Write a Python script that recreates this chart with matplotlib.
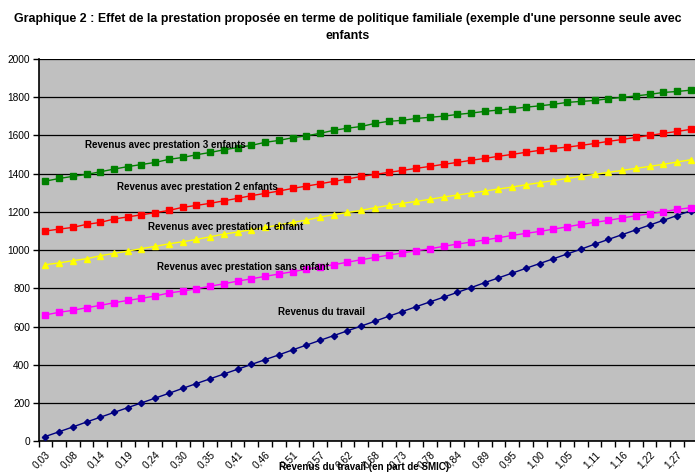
import matplotlib
matplotlib.use("Agg")
import matplotlib.pyplot as plt
from matplotlib.ticker import FixedLocator, NullFormatter

plt.rcParams['font.family'] = ['Liberation Sans', 'DejaVu Sans']

# categories : revenu du travail en part de SMIC (48 points, k/37)
points = list(range(1, 49))
labels = ['0,03', '0,08', '0,14', '0,19', '0,24', '0,30', '0,35', '0,41', '0,46', '0,51',
          '0,57', '0,62', '0,68', '0,73', '0,78', '0,84', '0,89', '0,95', '1,00', '1,05',
          '1,11', '1,16', '1,22', '1,27']

travail = [25, 50, 75, 101, 126, 151, 176, 201, 226, 251, 277, 302, 327, 352, 377, 402,
           427, 452, 478, 503, 528, 553, 578, 603, 628, 654, 679, 704, 729, 754, 779, 804,
           830, 855, 880, 905, 930, 955, 980, 1005, 1031, 1056, 1081, 1106, 1131, 1156, 1181, 1206]
sans_enfant = [661, 675, 685, 699, 711, 725, 737, 748, 760, 776, 786, 798, 811, 824, 838, 850,
               863, 875, 887, 900, 912, 924, 937, 950, 962, 974, 986, 997, 1007, 1020, 1032, 1042,
               1053, 1065, 1077, 1088, 1098, 1110, 1122, 1135, 1145, 1156, 1168, 1180, 1190, 1201, 1213, 1222]
un_enfant = [924, 933, 945, 955, 971, 983, 995, 1008, 1020, 1033, 1044, 1056, 1070, 1084, 1095, 1107,
             1119, 1131, 1145, 1157, 1173, 1185, 1197, 1208, 1222, 1234, 1245, 1255, 1266, 1278, 1288, 1299,
             1309, 1320, 1330, 1342, 1353, 1364, 1375, 1386, 1396, 1407, 1417, 1428, 1438, 1449, 1461, 1473]
deux_enfants = [1100, 1110, 1119, 1135, 1145, 1163, 1174, 1185, 1196, 1208, 1224, 1234, 1245, 1258, 1271, 1285,
                1297, 1309, 1323, 1335, 1347, 1360, 1372, 1386, 1396, 1407, 1417, 1428, 1438, 1449, 1459, 1470,
                1480, 1491, 1501, 1512, 1522, 1532, 1539, 1548, 1558, 1569, 1579, 1590, 1600, 1611, 1621, 1632]
trois_enfants = [1361, 1375, 1386, 1396, 1410, 1424, 1437, 1448, 1459, 1475, 1485, 1499, 1511, 1525, 1537, 1548,
                 1564, 1574, 1588, 1598, 1611, 1627, 1638, 1647, 1663, 1674, 1679, 1689, 1695, 1701, 1710, 1717,
                 1726, 1733, 1740, 1748, 1755, 1763, 1773, 1778, 1783, 1792, 1799, 1807, 1815, 1825, 1830, 1837]

fig = plt.figure(figsize=(6.95, 4.73), dpi=100)
ax = fig.add_axes([38.5 / 695, 1 - 441.3 / 473, (697.6 - 38.5) / 695, (441.3 - 59) / 473])
ax.set_facecolor('#C0C0C0')

# series
ax.plot(points, travail, color='#000080', marker='D', markersize=3.2, linewidth=1, zorder=3)
ax.plot(points, sans_enfant, color='#FF00FF', marker='s', markersize=4.2, linewidth=1, zorder=3)
ax.plot(points, un_enfant, color='#FFFF00', marker='^', markersize=4.8, linewidth=1, zorder=3)
ax.plot(points, deux_enfants, color='#FF0000', marker='s', markersize=4.2, linewidth=1, zorder=3)
ax.plot(points, trois_enfants, color='#008000', marker='s', markersize=4.2, linewidth=1, zorder=3)

# axes
ax.set_xlim(0.5, 48.5)
ax.set_ylim(0, 2000)
ax.set_yticks(range(0, 2001, 200))
ax.tick_params(axis='y', labelsize=7.3, length=4, width=1, direction='out', pad=2)
ax.yaxis.grid(True, color='black', linewidth=0.9)
ax.set_axisbelow(True)

ax.xaxis.set_major_locator(FixedLocator([i + 0.5 for i in range(0, 49)]))
ax.xaxis.set_major_formatter(NullFormatter())
ax.tick_params(axis='x', which='major', length=4, width=1, direction='out')
ax.set_xticks(points[::2], minor=True)
ax.set_xticklabels(labels, minor=True, rotation=45, ha='right', va='top',
                   rotation_mode='anchor', fontsize=7.3)
ax.tick_params(axis='x', which='minor', length=0, pad=6)

for s in ['top', 'right']:
    ax.spines[s].set_visible(False)
ax.spines['left'].set_linewidth(1.2)
ax.spines['bottom'].set_linewidth(1.2)

# texts inside the plot
ax.text(3.91, 1550, 'Revenus avec prestation 3 enfants', fontsize=7, fontweight='bold', va='center')
ax.text(6.24, 1330, 'Revenus avec prestation 2 enfants', fontsize=7, fontweight='bold', va='center')
ax.text(8.50, 1122, 'Revenus avec prestation 1 enfant', fontsize=7, fontweight='bold', va='center')
ax.text(9.15, 913, 'Revenus avec prestation sans enfant', fontsize=7, fontweight='bold', va='center')
ax.text(17.96, 676, 'Revenus du travail', fontsize=7, fontweight='bold', va='center')

fig.text(364 / 695, 1 / 473, 'Revenus du travail (en part de SMIC)', fontsize=7,
         fontweight='bold', ha='center', va='bottom')

fig.text(0.5, 1 - 27.5 / 473,
         "Graphique 2 : Effet de la prestation proposée en terme de politique familiale (exemple d'une personne seule avec\nenfants",
         fontsize=8.9, fontweight='bold', ha='center', va='center', linespacing=1.65)

fig.savefig('out.png', dpi=100)
